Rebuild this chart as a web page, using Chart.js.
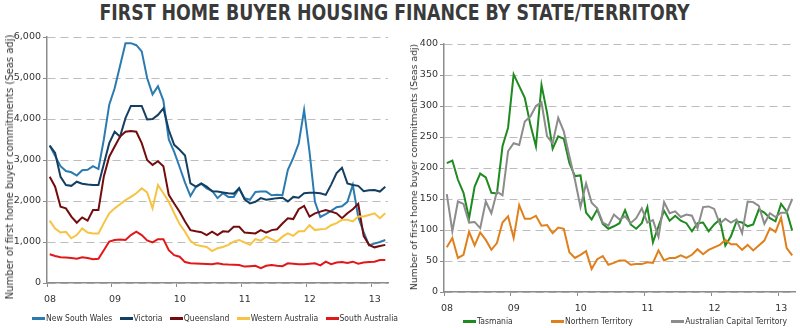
<!DOCTYPE html>
<html lang="en">
<head>
<meta charset="utf-8">
<title>First home buyer housing finance by state/territory</title>
<script src="https://cdn.jsdelivr.net/npm/chart.js@4.4.1/dist/chart.umd.min.js"></script>
<style>
  html, body { margin: 0; padding: 0; background: #ffffff; }
  #page { position: relative; width: 800px; height: 328px; overflow: hidden; background: #ffffff; }
  #title { position: absolute; left: 0; top: 1px; width: 790px; text-align: center; white-space: nowrap;
           font: bold 22px "Liberation Sans Narrow", "DejaVu Sans Condensed", sans-serif; color: #3a3a3a; line-height: 24px; }
  #title span { display: inline-block; transform-origin: 50% 50%; }
  .panel { position: absolute; top: 0; }
  .ytitle { position: absolute; white-space: nowrap; font-family: "DejaVu Sans", sans-serif; color: #333333;
            line-height: 12px; transform: translate(-50%, -50%) rotate(-90deg); transform-origin: 50% 50%; }
  .legend { position: absolute; display: flex; justify-content: space-between; align-items: center; white-space: nowrap;
            font: 8.5px "DejaVu Sans Condensed", "DejaVu Sans", sans-serif; color: #333333; }
  .legend .item { display: flex; align-items: center; }
  .legend .swatch { width: 13px; height: 3px; margin-right: 1px; }
</style>
</head>
<body>
<div id="page">
  <div id="title"><span>FIRST HOME BUYER HOUSING FINANCE BY STATE/TERRITORY</span></div>
  <canvas id="left" class="panel" width="400" height="328" style="left:0px"></canvas>
  <canvas id="right" class="panel" width="400" height="328" style="left:400px"></canvas>
  <div id="ytitleLeft" class="ytitle" style="left:10px; top:167px; font-size:10px"></div>
  <div id="ytitleRight" class="ytitle" style="left:414px; top:167px; font-size:9.3px"></div>
  <div id="legendLeft" class="legend" style="left:32px; top:312px; width:366px; height:12px"></div>
  <div id="legendRight" class="legend" style="left:463px; top:315px; width:324px; height:12px"></div>
</div>
<script>
// Monthly observations, Jan 2008 to Mar 2013 (63 months)
const monthCount = 63;
const yearLabels = ['08', '09', '10', '11', '12', '13'];

// Number of first home buyer commitments, seasonally adjusted
const newSouthWales = [3350, 3100, 2850, 2730, 2700, 2620, 2750, 2760, 2850, 2780,
  3500, 4350, 4750, 5300, 5850, 5850, 5800, 5650, 5000, 4600,
  4800, 4450, 3500, 3200, 2830, 2450, 2120, 2340, 2420, 2310,
  2250, 2070, 2190, 2100, 2100, 2310, 2070, 2030, 2220, 2230,
  2230, 2140, 2150, 2140, 2760, 3050, 3400, 4220, 3200, 1980,
  1610, 1680, 1760, 1850, 1870, 1980, 2390, 1610, 1240, 920,
  960, 1000, 1050];
const victoria = [3350, 3170, 2590, 2390, 2370, 2470, 2420, 2400, 2390, 2390,
  2900, 3410, 3690, 3570, 4020, 4320, 4320, 4320, 3990, 4000,
  4100, 4260, 3730, 3370, 3250, 3110, 2430, 2350, 2430, 2350,
  2240, 2230, 2210, 2190, 2180, 2310, 2040, 1940, 1980, 2070,
  2030, 2050, 2070, 2080, 1990, 2100, 2080, 2190, 2200, 2200,
  2190, 2150, 2400, 2680, 2810, 2430, 2390, 2370, 2240, 2260,
  2270, 2230, 2350];
const queensland = [2590, 2350, 1860, 1820, 1620, 1470, 1600, 1520, 1780, 1780,
  2600, 3080, 3330, 3570, 3690, 3710, 3690, 3410, 3000, 2880,
  2970, 2850, 2150, 1940, 1740, 1500, 1290, 1260, 1240, 1170,
  1250, 1170, 1260, 1250, 1370, 1370, 1230, 1220, 1210, 1290,
  1230, 1290, 1310, 1450, 1580, 1560, 1800, 1880, 1620, 1700,
  1740, 1780, 1740, 1700, 1580, 1700, 1800, 1930, 1150, 930,
  870, 900, 930];
const westernAustralia = [1520, 1330, 1230, 1250, 1090, 1170, 1330, 1230, 1210, 1210,
  1460, 1700, 1820, 1920, 2020, 2100, 2190, 2310, 2210, 1820,
  2390, 2190, 1980, 1700, 1440, 1250, 1030, 930, 900, 880,
  780, 850, 880, 930, 1010, 1050, 990, 930, 1070, 1030,
  1130, 1070, 1010, 1130, 1210, 1150, 1260, 1260, 1410, 1290,
  1310, 1320, 1410, 1460, 1540, 1540, 1500, 1620, 1620, 1660,
  1700, 1580, 1700];
const southAustralia = [700, 660, 630, 620, 610, 590, 630, 610, 580, 590,
  800, 1010, 1050, 1060, 1050, 1170, 1250, 1170, 1040, 990,
  1070, 1070, 800, 680, 640, 510, 480, 475, 470, 465,
  460, 480, 460, 450, 445, 440, 400, 410, 420, 360,
  420, 440, 420, 410, 480, 470, 460, 460, 470, 480,
  430, 520, 460, 500, 510, 490, 520, 470, 500, 510,
  520, 560, 560];
const tasmania = [208, 212, 181, 160, 119, 170, 191, 185, 160, 159,
  235, 265, 351, 332, 313, 270, 235, 334, 289, 231,
  251, 247, 208, 187, 188, 128, 117, 133, 110, 102,
  106, 111, 132, 109, 102, 111, 137, 80, 106, 131,
  115, 123, 115, 111, 98, 111, 112, 98, 109, 117,
  75, 90, 114, 112, 106, 109, 133, 128, 119, 114,
  142, 130, 99];
const northernTerritory = [72, 87, 55, 60, 97, 75, 96, 84, 68, 79,
  112, 122, 87, 140, 118, 118, 123, 107, 108, 95,
  104, 102, 64, 55, 60, 66, 37, 53, 58, 44,
  47, 51, 51, 44, 45, 45, 48, 47, 67, 51,
  55, 55, 59, 55, 60, 69, 61, 68, 72, 76,
  84, 77, 77, 68, 76, 67, 75, 83, 103, 97,
  120, 71, 59];
const australianCapitalTerritory = [158, 98, 146, 142, 112, 113, 103, 146, 127, 162,
  156, 227, 240, 237, 275, 283, 300, 306, 251, 240,
  281, 259, 219, 181, 137, 175, 144, 135, 112, 107,
  125, 117, 122, 111, 119, 135, 112, 116, 89, 145,
  127, 130, 121, 125, 123, 103, 137, 138, 134, 110,
  118, 112, 117, 95, 146, 145, 139, 110, 127, 121,
  128, 128, 150];

const statesLeft = [
  { name: 'New South Wales', values: newSouthWales, color: '#2b7bb1' },
  { name: 'Victoria', values: victoria, color: '#143f62' },
  { name: 'Queensland', values: queensland, color: '#730d0d' },
  { name: 'Western Australia', values: westernAustralia, color: '#f6c343' },
  { name: 'South Australia', values: southAustralia, color: '#e3171a' }
];
const statesRight = [
  { name: 'Tasmania', values: tasmania, color: '#1f8a1f' },
  { name: 'Northern Territory', values: northernTerritory, color: '#e0801c' },
  { name: 'Australian Capital Territory', values: australianCapitalTerritory, color: '#8c8c8c' }
];

const yTitle = 'Number of first home buyer commitments (Seas adj)';
const tickFont = { family: '"DejaVu Sans", sans-serif', size: 9.5 };
const axisColor = '#8c8c8c';
const textColor = '#333333';

// Each month is plotted in the middle of its slot; year ticks sit on the slot boundaries.
function toDatasets(list) {
  return list.map((s, i) => ({
    label: s.name,
    data: s.values.map((v, k) => ({ x: k + 0.5, y: v })),
    borderColor: s.color,
    backgroundColor: s.color,
    borderWidth: 2,
    pointRadius: 0,
    tension: 0,
    fill: false,
    order: list.length - i
  }));
}

function buildChart(id, list, cfg) {
  return new Chart(document.getElementById(id), {
    type: 'line',
    data: { datasets: toDatasets(list) },
    options: {
      responsive: false,
      animation: false,
      events: [],
      layout: { padding: cfg.padding },
      plugins: { legend: { display: false }, tooltip: { enabled: false } },
      scales: {
        x: {
          type: 'linear',
          min: 0,
          max: monthCount,
          afterBuildTicks: s => { s.ticks = yearLabels.map((_, j) => ({ value: j * 12 })); },
          afterFit: s => { s.height = cfg.xHeight; },
          ticks: {
            autoSkip: false, maxRotation: 0, padding: 7, labelOffset: 3,
            color: textColor, font: tickFont,
            callback: v => yearLabels[Math.round(v / 12)]
          },
          grid: { drawOnChartArea: false, drawTicks: true, tickLength: 4, color: axisColor, tickColor: axisColor },
          border: { color: axisColor, width: 1.5 }
        },
        y: {
          min: 0,
          max: cfg.yMax,
          afterFit: s => { s.width = cfg.axisWidth; },
          ticks: {
            stepSize: cfg.yStep, padding: 2, color: textColor, font: tickFont,
            callback: v => v.toLocaleString('en-US')
          },
          grid: { color: '#bdbdbd', lineWidth: 1, tickLength: 4, tickColor: axisColor, borderDash: [8, 5] },
          border: { color: axisColor, width: 1.5, dash: [8, 5] },
          title: { display: false }
        }
      }
    }
  });
}

buildChart('left', statesLeft, {
  yMax: 6000, yStep: 1000, axisWidth: 47, xHeight: 22,
  padding: { left: 0, top: 37, right: 12, bottom: 23 }
});
buildChart('right', statesRight, {
  yMax: 400, yStep: 50, axisWidth: 44, xHeight: 20,
  padding: { left: 0, top: 44, right: 5, bottom: 16 }
});

document.getElementById('ytitleLeft').textContent = yTitle;
document.getElementById('ytitleRight').textContent = yTitle;

function buildLegend(id, list) {
  const box = document.getElementById(id);
  list.forEach(s => {
    const item = document.createElement('div');
    item.className = 'item';
    const sw = document.createElement('span');
    sw.className = 'swatch';
    sw.style.background = s.color;
    const label = document.createElement('span');
    label.textContent = s.name;
    item.appendChild(sw);
    item.appendChild(label);
    box.appendChild(item);
  });
}
buildLegend('legendLeft', statesLeft);
buildLegend('legendRight', statesRight);

// Fit the heading to its column width
const heading = document.querySelector('#title span');
const headingWidth = heading.getBoundingClientRect().width;
heading.style.transform = 'scaleX(' + (590 / headingWidth).toFixed(4) + ')';
</script>
</body>
</html>
